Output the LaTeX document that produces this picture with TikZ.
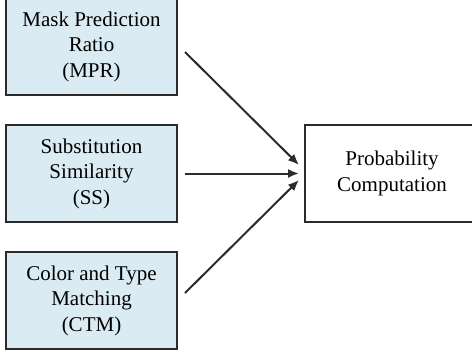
\documentclass[tikz,border=0pt]{standalone}
\usepackage{fontspec}
\setmainfont{Liberation Serif}
\usetikzlibrary{arrows.meta, positioning}
\definecolor{featblue}{HTML}{DAEBF3}
\definecolor{linegray}{HTML}{2B2B2B}

\begin{document}
\begin{tikzpicture}[x=1pt, y=-1pt,
    feat/.style={rectangle, draw=linegray, fill=featblue, line width=2pt,
                 minimum width=171pt, minimum height=97pt, align=center,
                 font=\fontsize{21}{25.5}\selectfont},
    outbox/.style={rectangle, draw=linegray, fill=white, line width=2pt,
                   minimum width=174pt, minimum height=97pt, align=center,
                   font=\fontsize{21}{25.5}\selectfont},
    arr/.style={-{Latex[length=11pt, width=9pt]}, line width=2pt, color=linegray}
  ]
    \useasboundingbox (0,0) rectangle (472,354);

    \node[feat] (mpr) at (91.5,46.5) {Mask Prediction\\Ratio\\(MPR)};
    \node[feat, below=28pt of mpr] (ss)  {Substitution\\Similarity\\(SS)};
    \node[feat, below=28pt of ss]  (ctm) {Color and Type\\Matching\\(CTM)};
    \node[outbox, right=126pt of ss] (prob) {Probability\\Computation};

    \draw[arr] ([shift={(7,5.5)}]mpr.east)   -- ([shift={(-5,-8.5)}]prob.west);
    \draw[arr] ([shift={(7,0)}]ss.east)      -- ([shift={(-5,0)}]prob.west);
    \draw[arr] ([shift={(7,-7.5)}]ctm.east)  -- ([shift={(-5,6.5)}]prob.west);
  \end{tikzpicture}
\end{document}
